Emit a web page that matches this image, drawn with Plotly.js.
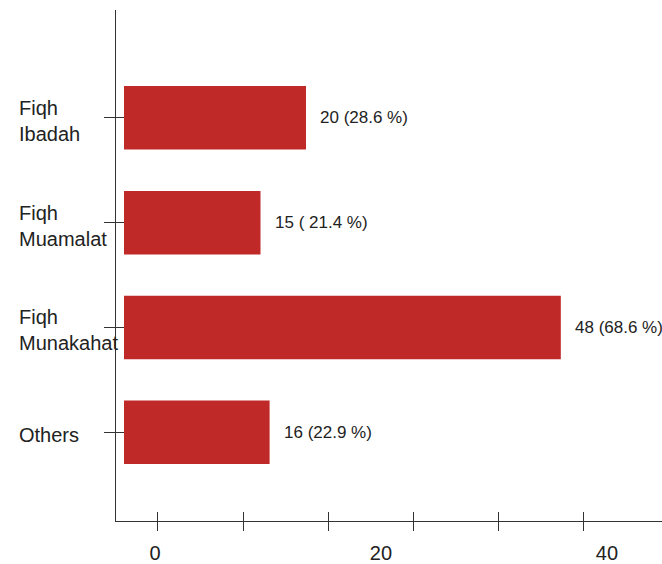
<!DOCTYPE html>
<html><head><meta charset="utf-8">
<script src="https://cdn.plot.ly/plotly-3.0.1.min.js"></script>
<style>html,body{margin:0;padding:0;background:#fff}#chart{width:662px;height:564px}</style>
</head><body><div id="chart"></div>
<script>
const categories = ['Fiqh Ibadah', 'Fiqh Muamalat', 'Fiqh Munakahat', 'Others'];
const categoryLabels = ['Fiqh<br>Ibadah', 'Fiqh<br>Muamalat', 'Fiqh<br>Munakahat', 'Others'];
const counts = [20, 15, 48, 16];
const valueLabels = ['20 (28.6 %)', '15 ( 21.4 %)', '48 (68.6 %)', '16 (22.9 %)'];
const tickMarkValues = [0, 10, 20, 30, 40, 50];
const tickLabelValues = [0, 20, 40];
const tickLabelTexts = ['0', '20', '40'];

const FONT = 'Liberation Sans, Arial, sans-serif';
const TXT = '#222';
const LINE = '#333';
const yRange = [3.847, -1.029];

const traces = [
  {type: 'bar', orientation: 'h', y: categories, x: counts, width: 0.606,
   marker: {color: '#BF2A28'}, hoverinfo: 'skip', showlegend: false, xaxis: 'x', yaxis: 'y'},
  {type: 'scatter', x: [], y: [], xaxis: 'x2', yaxis: 'y', showlegend: false, hoverinfo: 'skip'},
  {type: 'scatter', x: [], y: [], xaxis: 'x3', yaxis: 'y', showlegend: false, hoverinfo: 'skip'},
  {type: 'scatter', x: [], y: [], xaxis: 'x4', yaxis: 'y', showlegend: false, hoverinfo: 'skip'},
  {type: 'scatter', x: [], y: [], xaxis: 'x', yaxis: 'y2', showlegend: false, hoverinfo: 'skip'}
];

const hidden = {showgrid: false, zeroline: false, showline: false, fixedrange: true};

const annotations = [];
categories.forEach((c, i) => {
  annotations.push({xref: 'paper', x: (17 - 116) / 546, xanchor: 'left', align: 'left',
    yref: 'y', y: c, yshift: -3, text: categoryLabels[i], showarrow: false,
    font: {family: FONT, size: 20, color: TXT}});
  annotations.push({xref: 'x', x: counts[i], xanchor: 'left', xshift: 12,
    yref: 'y', y: c, text: valueLabels[i], showarrow: false,
    font: {family: FONT, size: 17, color: TXT}});
});

const layout = {
  width: 662, height: 564,
  margin: {l: 116, r: 0, t: 10, b: 43, pad: 0},
  paper_bgcolor: '#fff', plot_bgcolor: 'rgba(0,0,0,0)',
  font: {family: FONT, color: TXT},
  showlegend: false,
  xaxis: Object.assign({}, hidden, {range: [-0.879, 59.12], showline: true, linecolor: LINE, linewidth: 1,
    ticks: '', showticklabels: false}),
  xaxis2: Object.assign({}, hidden, {overlaying: 'x', anchor: 'y', range: [-4.94, 59.29],
    tickmode: 'array', tickvals: tickMarkValues, ticks: 'outside', ticklen: 9, tickcolor: LINE, tickwidth: 1,
    showticklabels: false}),
  xaxis3: Object.assign({}, hidden, {overlaying: 'x', anchor: 'y', range: [-4.94, 59.29],
    tickmode: 'array', tickvals: tickMarkValues, ticks: 'inside', ticklen: 9, tickcolor: LINE, tickwidth: 1,
    showticklabels: false}),
  xaxis4: Object.assign({}, hidden, {overlaying: 'x', anchor: 'y', range: [-3.45, 44.87],
    tickmode: 'array', tickvals: tickLabelValues, ticktext: tickLabelTexts, ticks: '',
    showticklabels: true, ticklabelstandoff: 18, tickfont: {family: FONT, size: 20, color: TXT}}),
  yaxis: Object.assign({}, hidden, {type: 'category', categoryorder: 'array', categoryarray: categories,
    range: yRange, showline: true, linecolor: LINE, linewidth: 1,
    ticks: 'outside', ticklen: 11, tickcolor: LINE, tickwidth: 1, showticklabels: false}),
  yaxis2: Object.assign({}, hidden, {overlaying: 'y', anchor: 'x', type: 'linear', range: yRange,
    tickmode: 'array', tickvals: [0, 1, 2, 3], ticks: 'inside', ticklen: 8, tickcolor: LINE, tickwidth: 1,
    showticklabels: false}),
  annotations: annotations
};

Plotly.newPlot('chart', traces, layout, {staticPlot: true, displayModeBar: false});
</script>
</body></html>
